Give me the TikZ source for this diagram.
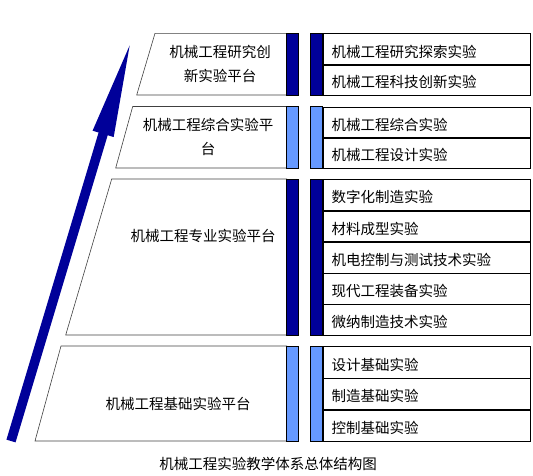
\documentclass[tikz,border=0pt]{standalone}
\usepackage{fontspec}
\setmainfont{Noto Sans CJK SC}
\usepackage{tikz}
\usetikzlibrary{positioning}
\usetikzlibrary{arrows.meta}
\definecolor{deepblue}{HTML}{000099}
\definecolor{skyblue}{HTML}{6699FF}

\begin{document}
\begin{tikzpicture}[x=1pt, y=-1pt,
    platform/.style={draw=black!75, line width=0.6pt},
    bar/.style={draw=black, line width=0.7pt},
    row/.style={draw=black, line width=0.7pt, anchor=north west, minimum width=207.3pt,
        inner xsep=8.3pt, inner ysep=0pt, text width=190pt, align=left,
        text height=16pt, text depth=0pt,
        font=\fontsize{14.5}{17}\selectfont},
    lbl/.style={font=\fontsize{14.5}{24}\selectfont, align=center, inner sep=0pt}]

    \useasboundingbox (0,0) rectangle (533,475);

    % arrow
    \draw [deepblue, line width=9.5pt, -{Triangle[length=105pt, width=19pt]}] (11,441) -- (133.3,33.3);

    % platforms
    \draw [platform] (155,33.3) -- (286.7,33.3) -- (286.7,95) -- (136.7,95) -- cycle;
    \draw [platform] (132.7,106.5) -- (286.7,106.5) -- (286.7,168) -- (115.7,168) -- cycle;
    \draw [platform] (111.7,179) -- (286.7,179) -- (286.7,335) -- (65.7,335) -- cycle;
    \draw [platform] (61,346) -- (286.7,346) -- (286.7,441) -- (35,441) -- cycle;

    \node [lbl] (pf1) at (220,64) {机械工程研究创\\新实验平台};
    \node [lbl] (pf2) at (208,136.5) {机械工程综合实验平\\台};
    \node [lbl] (pf3) at (203,235.7) {机械工程专业实验平台};
    \node [lbl] (pf4) at (178,404) {机械工程基础实验平台};

    % bars
    \draw [bar, fill=deepblue] (286.7,33.3) rectangle (298.3,95);
    \draw [bar, fill=skyblue] (286.7,106.5) rectangle (298.3,168);
    \draw [bar, fill=deepblue] (286.7,179) rectangle (298.3,335);
    \draw [bar, fill=skyblue] (286.7,346) rectangle (298.3,441);

    \draw [bar, fill=deepblue] (310.7,33.3) rectangle (322.7,95);
    \draw [bar, fill=skyblue] (310.7,106.5) rectangle (322.7,168);
    \draw [bar, fill=deepblue] (310.7,179) rectangle (322.7,335);
    \draw [bar, fill=skyblue] (310.7,346) rectangle (322.7,441);

    % rows
    \foreach \txt [count=\i] in {机械工程研究探索实验, 机械工程科技创新实验}
        \node [row, minimum height=30.85pt] (ra\i) at (322.7,{33.3+(\i-1)*30.85}) {\txt};
    \foreach \txt [count=\i] in {机械工程综合实验, 机械工程设计实验}
        \node [row, minimum height=30.75pt] (rb\i) at (322.7,{106.5+(\i-1)*30.75}) {\txt};
    \foreach \txt [count=\i] in {数字化制造实验, 材料成型实验, 机电控制与测试技术实验, 现代工程装备实验, 微纳制造技术实验}
        \node [row, minimum height=31.2pt] (rc\i) at (322.7,{179+(\i-1)*31.2}) {\txt};
    \foreach \txt [count=\i] in {设计基础实验, 制造基础实验, 控制基础实验}
        \node [row, minimum height=31.67pt] (rd\i) at (322.7,{346+(\i-1)*31.67}) {\txt};

    % dividers
    \draw [line width=1.6pt] (ra1.south west) -- (ra1.south east);
    \draw [line width=1.6pt] (rb1.south west) -- (rb1.south east);
    \foreach \i in {1,...,4}
        \draw [line width=1.6pt] (rc\i.south west) -- (rc\i.south east);
    \foreach \i in {1,2}
        \draw [line width=1.6pt] (rd\i.south west) -- (rd\i.south east);

    \node [lbl] (cap) at (268,464) {机械工程实验教学体系总体结构图};

\end{tikzpicture}
\end{document}
